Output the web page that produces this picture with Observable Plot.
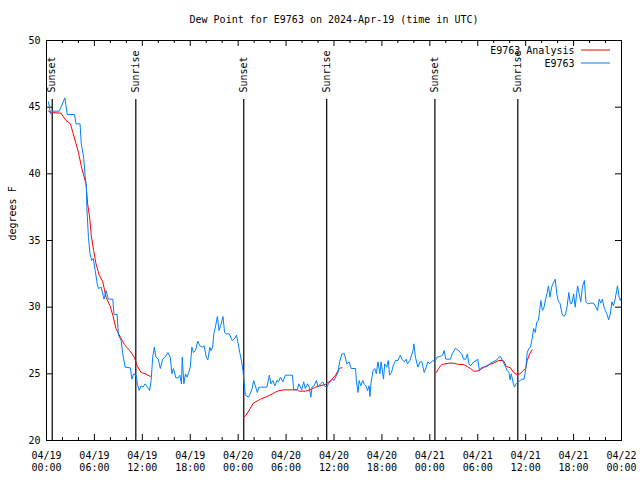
<!DOCTYPE html>
<html><head><meta charset="utf-8">
<script src="https://cdn.jsdelivr.net/npm/d3@7"></script>
<script src="https://cdn.jsdelivr.net/npm/@observablehq/plot@0.6"></script>
<style>body{margin:0;background:#fff} svg{display:block}</style>
</head><body><div id="chart"></div>
<script>
const title = "Dew Point for E9763 on 2024-Apr-19 (time in UTC)";
const yLabel = "degrees F";
const startUTC = "2024-04-19T00:00:00Z";
const endUTC = "2024-04-22T00:00:00Z";
const obsName = "E9763";
const anaName = "E9763 Analysis";
const yTicks = [20, 25, 30, 35, 40, 45, 50];

// observations: hours after start, dew point (F)
const obsHours = [0.25,0.5,0.8,1.6,2.3,2.6,3.5,3.7,4.2,4.35,4.65,4.85,5.0,5.05,5.25,5.45,5.65,5.85,6.1,6.35,6.5,6.85,7.2,7.45,7.75,8.3,8.45,8.85,9.0,9.35,9.55,9.85,10.5,10.7,10.9,11.2,11.4,11.6,11.85,12.1,12.35,12.65,12.9,13.1,13.3,13.5,13.7,14.0,14.25,14.55,14.85,15.2,15.5,15.7,15.9,16.2,16.5,16.7,16.9,17.0,17.2,17.4,17.6,17.8,18.0,18.2,18.4,18.65,18.95,19.2,19.5,19.75,20.0,20.2,20.45,20.6,20.8,20.95,21.15,21.4,21.6,21.8,22.1,22.3,22.5,22.9,23.25,23.5,23.8,24.0,24.2,24.4,24.6,24.7,24.8,24.9,25.3,25.5,25.75,25.95,26.15,26.4,26.6,26.8,27.6,27.9,28.1,28.35,28.6,28.85,29.05,29.3,29.6,29.9,30.8,30.95,31.4,31.6,31.95,32.2,32.4,32.7,32.9,33.1,33.25,33.5,33.8,34.0,34.3,34.6,34.8,35.1,35.3,35.5,35.8,36.0,36.2,36.5,36.7,37.0,37.3,37.6,37.9,38.15,38.7,38.8,39.0,39.15,39.35,39.6,39.8,40.0,40.2,40.4,40.5,40.65,40.9,41.1,41.3,41.5,41.75,41.9,42.2,42.35,42.6,42.8,42.95,43.2,43.4,43.7,44.0,44.3,44.5,44.8,45.05,45.2,45.5,45.9,46.0,46.2,46.5,46.75,47.0,47.3,47.55,47.75,48.0,48.35,48.6,48.9,49.3,49.6,49.8,50.0,50.6,50.8,51.2,51.6,51.8,52.0,52.2,52.5,52.7,52.9,53.1,53.5,53.8,54.0,54.2,54.5,54.9,55.3,55.5,55.9,56.3,56.65,56.85,57.1,57.5,57.7,57.9,58.05,58.2,58.4,58.6,58.8,59.1,59.5,59.8,60.0,60.2,60.4,60.6,60.8,61.0,61.2,61.4,61.6,61.9,62.1,62.3,62.5,62.7,62.85,63.05,63.25,63.45,63.7,63.9,64.1,64.3,64.55,64.8,65.0,65.2,65.4,65.6,65.8,66.0,66.2,66.5,66.7,66.9,67.1,67.35,67.55,67.8,68.1,68.5,68.8,69.0,69.2,69.4,69.6,69.85,70.1,70.4,70.6,70.8,71.0,71.2,71.5,71.7,71.85,72.0];
const obsDewF = [45.4,44.5,44.7,44.7,45.7,44.45,44.45,43.75,43.75,42.25,41.25,39.75,39.0,37.5,35.25,34.0,33.5,33.65,32.75,31.75,31.4,31.5,30.6,31.25,30.6,30.6,29.45,29.45,27.9,27.5,26.5,25.5,25.45,24.6,25.0,24.9,24.25,23.75,24.1,24.0,24.25,24.0,23.75,24.5,26.25,27.0,26.25,26.1,25.4,26.1,26.25,26.6,26.25,25.0,25.4,24.7,24.7,24.9,24.25,26.25,24.25,25.0,24.75,25.1,25.5,27.0,26.6,26.75,27.45,27.1,27.0,27.1,26.25,26.05,27.0,26.75,27.0,28.0,28.5,29.3,28.25,28.6,29.3,28.1,28.0,28.0,27.5,27.6,27.9,27.25,26.6,26.0,25.25,24.6,24.0,23.4,23.25,23.5,23.9,24.5,24.1,23.6,24.0,24.0,24.0,24.9,24.25,24.5,24.1,24.5,24.4,24.75,24.4,24.9,24.9,23.8,23.8,24.25,23.8,24.4,23.9,24.25,24.0,23.25,24.0,24.1,24.5,24.0,24.25,24.4,24.1,24.0,24.25,24.4,24.6,24.5,24.75,25.1,25.9,26.5,26.5,25.75,25.9,25.4,25.4,24.5,23.6,24.5,24.1,24.5,24.2,24.1,23.75,24.1,23.3,24.4,25.25,25.4,25.0,25.9,25.0,25.9,24.6,25.75,25.5,26.0,24.9,25.1,25.6,26.0,26.0,26.4,26.1,25.9,26.1,25.75,26.0,26.75,27.25,26.25,25.5,25.9,25.9,25.1,25.5,25.9,25.75,26.0,25.9,26.25,26.3,26.4,26.75,26.1,26.1,26.5,26.9,26.75,26.6,26.5,26.1,26.1,26.5,25.75,25.6,25.9,26.0,26.1,25.25,25.5,25.5,25.6,25.75,25.9,26.0,26.25,26.3,26.0,25.5,25.25,25.1,24.55,25.0,24.4,24.0,24.25,24.4,24.6,24.6,25.3,26.6,26.9,27.0,27.6,28.4,28.1,28.9,29.0,30.5,29.75,30.0,30.6,31.1,31.6,30.75,31.5,31.8,32.1,31.0,30.4,30.3,29.5,29.3,29.5,30.1,31.1,30.25,30.3,31.0,30.0,31.6,31.0,30.4,31.5,32.0,30.4,30.25,30.3,30.3,30.0,29.75,30.6,30.3,30.6,29.9,29.6,29.05,29.5,30.4,30.1,30.6,31.6,30.75,30.5,30.75];

// analysis: hours after start, dew point (F); null marks a gap
const anaHours = [0.25,0.6,1.8,2.45,3.0,3.3,3.7,4.0,4.35,4.65,4.95,5.15,5.4,5.6,5.9,6.2,6.6,7.05,7.45,7.95,8.3,8.7,9.25,9.75,10.4,11.0,11.35,11.85,12.4,13.0,
  18.0,
  24.7,25.0,25.5,25.9,26.8,27.6,28.3,28.9,29.7,31.4,31.6,32.4,33.0,33.7,34.2,34.9,35.6,36.2,36.5,36.8,37.0,
  42.0,
  48.8,49.1,49.5,50.4,51.0,51.6,52.2,52.7,53.1,53.5,53.9,54.3,54.8,55.4,56.0,56.6,57.2,57.6,58.1,58.5,58.9,59.3,59.6,60.0,60.2,60.5,60.8];
const anaDewF = [44.7,44.6,44.55,44.0,43.75,43.1,42.25,41.6,40.6,39.9,39.25,37.75,36.75,35.4,34.25,33.25,32.4,31.9,30.75,30.1,29.4,28.4,27.75,27.2,26.75,26.25,25.6,25.1,25.0,24.8,
  null,
  21.75,21.9,22.4,22.8,23.1,23.3,23.5,23.7,23.8,23.8,23.7,23.7,23.8,24.0,24.1,24.2,24.5,24.9,25.25,25.45,25.45,
  null,
  25.1,25.4,25.7,25.8,25.8,25.7,25.7,25.55,25.4,25.2,25.2,25.3,25.5,25.7,25.8,26.0,26.0,25.55,25.45,25.1,24.95,25.0,25.2,25.4,26.0,26.5,26.8];

const sunNames = ["Sunset", "Sunrise", "Sunset", "Sunrise", "Sunset", "Sunrise"];
const sunTimes = ["2024-04-19T00:43Z", "2024-04-19T11:11Z", "2024-04-20T00:42Z", "2024-04-20T11:05Z", "2024-04-21T00:38Z", "2024-04-21T11:01Z"];

const t0 = new Date(startUTC).getTime();
const start = new Date(startUTC), end = new Date(endUTC);
const obs = obsHours.map((h, i) => ({t: new Date(t0 + h * 36e5), v: obsDewF[i]}));
const ana = anaHours.map((h, i) => ({t: new Date(t0 + h * 36e5), v: anaDewF[i] == null ? NaN : anaDewF[i]}));
const sun = sunNames.map((n, i) => ({name: n, t: new Date(sunTimes[i])}));
const majorTicks = d3.utcHour.every(6).range(start, new Date(+end + 1));
const minorTicks = d3.utcHour.every(2).range(start, new Date(+end + 1)).filter(d => d.getUTCHours() % 6 !== 0);

const W = 640, H = 480, mL = 46, mR = 19, mT = 40, mB = 40;
const iW = W - mL - mR, iH = H - mT - mB;
const RED = "#ff0000", BLUE = "#0080ff";

const chart = Plot.plot({
  width: W, height: H,
  marginLeft: mL, marginRight: mR, marginTop: mT, marginBottom: mB,
  style: {fontFamily: "'DejaVu Sans Mono', monospace", fontSize: "10px", color: "black", background: "white"},
  x: {type: "utc", domain: [start, end]},
  y: {domain: [20, 50]},
  marks: [
    Plot.axisX({ticks: majorTicks, tickSize: 0, tickPadding: 10, tickFormat: d3.utcFormat("%m/%d\n%H:%M"), label: null, lineHeight: 1.2}),
    Plot.axisY({ticks: yTicks, tickSize: 0, tickPadding: 6, label: null}),
    Plot.ruleX(majorTicks, {insetTop: iH - 6, stroke: "black"}),
    Plot.ruleX(minorTicks, {insetTop: iH - 3, stroke: "black"}),
    Plot.ruleX(majorTicks, {insetBottom: iH - 6, stroke: "black"}),
    Plot.ruleX(minorTicks, {insetBottom: iH - 3, stroke: "black"}),
    Plot.ruleY(yTicks, {insetRight: iW - 6, stroke: "black"}),
    Plot.ruleY(yTicks, {insetLeft: iW - 6, stroke: "black"}),
    Plot.ruleX(sun, {x: "t", insetTop: 59, stroke: "black", strokeWidth: 1.2}),
    Plot.text(sun, {x: "t", text: "name", frameAnchor: "top", dy: 52, rotate: -90, textAnchor: "start", lineAnchor: "middle", fill: "black"}),
    Plot.line(ana, {x: "t", y: "v", stroke: RED, strokeWidth: 1}),
    Plot.line(obs, {x: "t", y: "v", stroke: BLUE, strokeWidth: 1}),
    Plot.text([anaName], {frameAnchor: "top-right", dx: -47, dy: 10, textAnchor: "end", lineAnchor: "middle", fill: "black"}),
    Plot.text([obsName], {frameAnchor: "top-right", dx: -47, dy: 23, textAnchor: "end", lineAnchor: "middle", fill: "black"}),
    Plot.ruleY([50], {dy: 9.5, insetLeft: iW - 40, insetRight: 11, stroke: RED}),
    Plot.ruleY([50], {dy: 22.5, insetLeft: iW - 40, insetRight: 11, stroke: BLUE}),
    Plot.text([title], {frameAnchor: "top", dy: -21, lineAnchor: "middle", fill: "black"}),
    Plot.text([yLabel], {frameAnchor: "left", dx: -34, rotate: -90, lineAnchor: "middle", fill: "black"}),
    Plot.frame({stroke: "black"})
  ]
});
document.getElementById("chart").appendChild(chart);
</script>
</body></html>
